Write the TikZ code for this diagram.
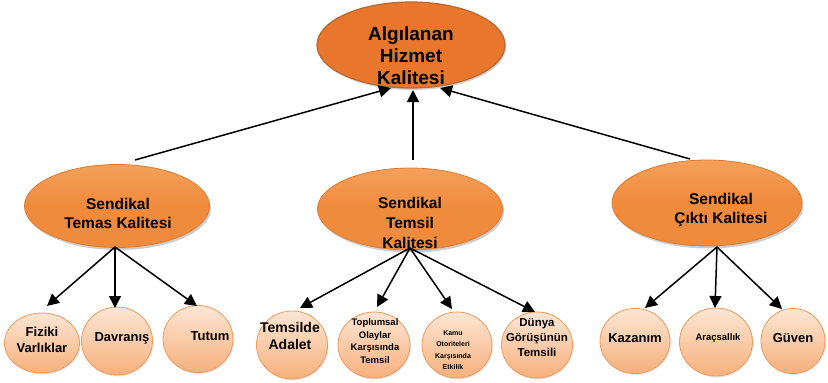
\documentclass[tikz,border=0pt]{standalone}
\usepackage{fontspec}
\setmainfont{Liberation Sans}
\usetikzlibrary{arrows.meta,shadows,shapes.geometric}
\definecolor{topfill}{HTML}{E8762C}
\definecolor{topline}{HTML}{B8672F}
\definecolor{midfill}{HTML}{F08A3C}
\definecolor{midtop}{HTML}{F5A05A}
\definecolor{midline}{HTML}{E07A30}
\definecolor{leaftop}{HTML}{FDE6D4}
\definecolor{leafbot}{HTML}{F6B07C}
\definecolor{leafline}{HTML}{EE9A5C}
\begin{document}
\begin{tikzpicture}[x=1pt,y=-1pt,
  topnode/.style={ellipse,draw=topline,line width=1.2pt,fill=topfill,
    minimum width=188pt,minimum height=86pt,inner sep=0pt,
    drop shadow={shadow xshift=1pt,shadow yshift=-2pt,opacity=.35}},
  midnode/.style={ellipse,draw=midline,line width=0.8pt,top color=midtop,bottom color=midfill,
    middle color=midfill,inner sep=0pt,
    drop shadow={shadow xshift=1.5pt,shadow yshift=-2.5pt,opacity=.4}},
  leaf/.style={ellipse,draw=leafline,line width=0.8pt,top color=leaftop,bottom color=leafbot,
    inner sep=0pt,
    drop shadow={shadow xshift=1pt,shadow yshift=-1.5pt,opacity=.2}},
  arr/.style={-{Triangle[width=12pt,length=12pt]},line width=1.5pt,black},
  lbl/.style={inner sep=0pt,align=center}
]
\useasboundingbox[fill=white] (0,0) rectangle (828,383);

% top
\node[topnode] (top) at (411,45) {};
\node[lbl,font=\fontsize{19}{22}\selectfont\bfseries] (toptext) at (411,56) {Algılanan\\Hizmet\\Kalitesi};

% middle level
\node[midnode,minimum width=185pt,minimum height=83pt] (m1) at (117,206) {};
\node[lbl,font=\fontsize{15.5}{19}\selectfont\bfseries] (m1t) at (118,213) {Sendikal\\Temas Kalitesi};
\node[midnode,minimum width=185pt,minimum height=82pt] (m2) at (410,209) {};
\node[lbl,font=\fontsize{15.5}{20}\selectfont\bfseries] (m2t) at (410,223) {Sendikal\\Temsil\\Kalitesi};
\node[midnode,minimum width=190pt,minimum height=86pt] (m3) at (707,203) {};
\node[lbl,font=\fontsize{15.5}{19}\selectfont\bfseries] (m3t) at (721,210) {Sendikal\\Çıktı Kalitesi};

% leaves
\node[leaf,minimum width=75pt,minimum height=60pt] (l1) at (42,343) {};
\node[lbl,font=\fontsize{13}{16}\selectfont\bfseries] (l1t) at (42,340) {Fiziki\\Varlıklar};
\node[leaf,minimum width=71pt,minimum height=68pt] (l2) at (117,341) {};
\node[lbl,font=\fontsize{13}{16}\selectfont\bfseries] (l2t) at (122,338) {Davranış};
\node[leaf,minimum width=70pt,minimum height=67pt] (l3) at (198,339) {};
\node[lbl,font=\fontsize{13}{16}\selectfont\bfseries] (l3t) at (210,336) {Tutum};

\node[leaf,minimum width=71pt,minimum height=68pt] (l4) at (292,345) {};
\node[lbl,font=\fontsize{14}{17}\selectfont\bfseries] (l4t) at (290,336) {Temsilde\\Adalet};
\node[leaf,minimum width=72pt,minimum height=66pt] (l5) at (374,345) {};
\node[lbl,font=\fontsize{9.5}{12.6}\selectfont\bfseries] (l5t) at (375,341) {Toplumsal\\Olaylar\\Karşısında\\Temsil};
\node[leaf,minimum width=70pt,minimum height=66pt] (l6) at (457,345) {};
\node[lbl,font=\fontsize{7}{11.4}\selectfont\bfseries] (l6t) at (453,350) {Kamu\\Otoriteleri\\Karşısında\\Etkilik};
\node[leaf,minimum width=71pt,minimum height=66pt] (l7) at (537,345) {};
\node[lbl,font=\fontsize{11.5}{15}\selectfont\bfseries] (l7t) at (537,338) {Dünya\\Görüşünün\\Temsili};

\node[leaf,minimum width=70pt,minimum height=65pt] (l8) at (635,341) {};
\node[lbl,font=\fontsize{13}{16}\selectfont\bfseries] (l8t) at (635,338) {Kazanım};
\node[leaf,minimum width=73pt,minimum height=68pt] (l9) at (716,342) {};
\node[lbl,font=\fontsize{9.5}{12}\selectfont\bfseries] (l9t) at (718,338) {Araçsallık};
\node[leaf,minimum width=64pt,minimum height=65pt] (l10) at (793,341) {};
\node[lbl,font=\fontsize{13}{16}\selectfont\bfseries] (l10t) at (793,338) {Güven};

% connector coordinates
\coordinate (s1) at (135,160);
\coordinate (s2) at (413,160);
\coordinate (s3) at (690,159);
\coordinate (t1) at (391,88);
\coordinate (t2) at (413,90);
\coordinate (t3) at (440,88);
\coordinate (o1) at (115,247);
\coordinate (o2) at (410,248);
\coordinate (o3) at (717,247);
\coordinate (e1) at (47,306);
\coordinate (e2) at (115,308);
\coordinate (e3) at (197,306);
\coordinate (e4) at (300,308);
\coordinate (e5) at (377,307);
\coordinate (e6) at (452,309);
\coordinate (e7) at (535,312);
\coordinate (e8) at (645,308);
\coordinate (e9) at (715,308);
\coordinate (e10) at (782,309);

\draw[arr] (s1) -- (t1);
\draw[arr] (s2) -- (t2);
\draw[arr] (s3) -- (t3);

\draw[arr] (o1) -- (e1);
\draw[arr] (o1) -- (e2);
\draw[arr] (o1) -- (e3);

\draw[arr] (o2) -- (e4);
\draw[arr] (o2) -- (e5);
\draw[arr] (o2) -- (e6);
\draw[arr] (o2) -- (e7);

\draw[arr] (o3) -- (e8);
\draw[arr] (o3) -- (e9);
\draw[arr] (o3) -- (e10);
\end{tikzpicture}
\end{document}
